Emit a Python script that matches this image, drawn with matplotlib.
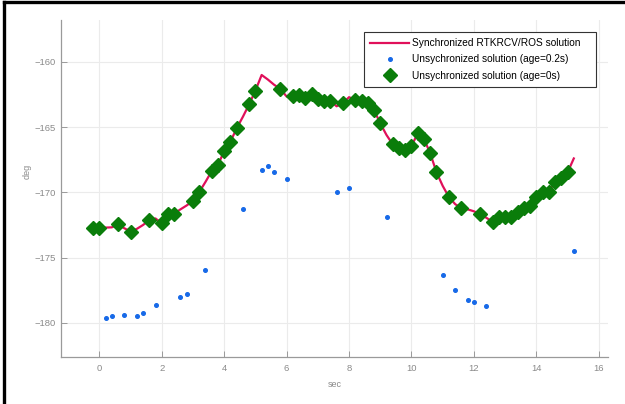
import matplotlib
matplotlib.use("Agg")
import matplotlib.pyplot as plt
from matplotlib.lines import Line2D
import numpy as np

# Synchronized RTKRCV/ROS solution (line)
sync_t = [-0.2, 0.0, 0.2, 0.4, 0.6, 0.8, 1.0, 1.2, 1.4, 1.6, 1.8, 2.0, 2.2, 2.4, 2.6, 2.8,
          3.0, 3.2, 3.4, 3.6, 3.8, 4.0, 4.2, 4.4, 4.6, 4.8, 5.0, 5.2, 5.4, 5.6, 5.8, 6.0,
          6.2, 6.4, 6.6, 6.8, 7.0, 7.2, 7.4, 7.6, 7.8, 8.0, 8.2, 8.4, 8.6, 8.8, 9.0, 9.2,
          9.4, 9.6, 9.8, 10.0, 10.2, 10.4, 10.6, 10.8, 11.0, 11.2, 11.4, 11.6, 11.8, 12.0,
          12.2, 12.4, 12.6, 12.8, 13.0, 13.2, 13.4, 13.6, 13.8, 14.0, 14.2, 14.4, 14.6,
          14.8, 15.0, 15.2]
sync_deg = [-172.76, -172.76, -172.7, -172.68, -172.46, -172.75, -173.0, -172.8, -172.5,
            -172.13, -172.0, -172.38, -171.67, -171.62, -171.3, -171.0, -170.65, -169.98,
            -169.2, -168.37, -167.9, -166.83, -166.11, -165.09, -164.2, -163.25, -162.2,
            -161.0, -161.35, -161.75, -162.07, -162.65, -162.61, -162.53, -162.8, -162.48,
            -162.85, -163.0, -162.97, -163.4, -163.17, -162.7, -162.92, -162.97, -163.17,
            -163.68, -164.71, -165.6, -166.32, -166.62, -166.75, -166.45, -165.47, -165.9,
            -167.0, -168.45, -169.5, -170.36, -170.9, -171.23, -171.3, -171.45, -171.67,
            -171.95, -172.26, -171.92, -171.92, -171.92, -171.49, -171.18, -171.05, -170.34,
            -170.0, -169.95, -169.19, -168.93, -168.47, -167.4]

# Unsynchronized solution (age=0.2s)
age02_t = [0.2, 0.4, 0.8, 1.2, 1.4, 1.8, 2.6, 2.8, 3.4, 4.6, 5.2, 5.4, 5.6, 6.0, 7.6, 8.0,
           9.2, 11.0, 11.4, 11.8, 12.0, 12.4, 15.2]
age02_deg = [-179.65, -179.47, -179.42, -179.5, -179.24, -178.6, -178.0, -177.8, -175.94,
             -171.3, -168.3, -168.0, -168.44, -169.0, -169.95, -169.7, -171.9, -176.37,
             -177.5, -178.27, -178.42, -178.7, -174.48]

# Unsynchronized solution (age=0s)
age0_t = [-0.2, 0.0, 0.6, 1.0, 1.6, 2.0, 2.2, 2.4, 3.0, 3.2, 3.6, 3.8, 4.0, 4.2, 4.4, 4.8,
          5.0, 5.8, 6.2, 6.4, 6.6, 6.8, 7.0, 7.2, 7.4, 7.8, 8.2, 8.4, 8.6, 8.8, 9.0, 9.4,
          9.6, 9.8, 10.0, 10.2, 10.4, 10.6, 10.8, 11.2, 11.6, 12.2, 12.6, 12.8, 13.0, 13.2,
          13.4, 13.6, 13.8, 14.0, 14.2, 14.4, 14.6, 14.8, 15.0]
age0_deg = [-172.76, -172.76, -172.46, -173.0, -172.13, -172.38, -171.67, -171.62, -170.65,
            -169.98, -168.37, -167.9, -166.83, -166.11, -165.09, -163.25, -162.2, -162.07,
            -162.61, -162.53, -162.8, -162.48, -162.85, -163.0, -162.97, -163.17, -162.92,
            -162.97, -163.17, -163.68, -164.71, -166.32, -166.62, -166.75, -166.45, -165.47,
            -165.9, -167.0, -168.45, -170.36, -171.23, -171.67, -172.26, -171.92, -171.92,
            -171.92, -171.49, -171.18, -171.05, -170.34, -170.0, -169.95, -169.19, -168.93,
            -168.47]

x_ticks = [0, 2, 4, 6, 8, 10, 12, 14, 16]
y_ticks = [-180, -175, -170, -165, -160]

plt.rcParams['font.family'] = ['Liberation Sans', 'DejaVu Sans']

fig = plt.figure(figsize=(6.25, 4.04), dpi=100)
ax = fig.add_axes([0.098, 0.117, 0.875, 0.833])

ax.plot(sync_t, sync_deg, color='#e0105a', lw=1.6, zorder=2,
        label='Synchronized RTKRCV/ROS solution')
ax.plot(age02_t, age02_deg, linestyle='none', marker='o', ms=2.6, color='#1769e8',
        mec='#1769e8', zorder=3, label='Unsychronized solution (age=0.2s)')
ax.plot(age0_t, age0_deg, linestyle='none', marker='D', ms=7, color='#0a7d0a',
        mec='#0a7d0a', zorder=4, label='Unsychronized solution (age=0s)')

ax.set_xlim(-1.22, 16.3)
ax.set_ylim(-182.6, -156.8)
ax.set_xticks(x_ticks)
ax.set_yticks(y_ticks)
ax.grid(True, color='#ebebeb', lw=0.8)
ax.set_axisbelow(True)

for s in ['top', 'right']:
    ax.spines[s].set_visible(False)
for s in ['left', 'bottom']:
    ax.spines[s].set_color('#9a9a9a')
    ax.spines[s].set_linewidth(0.9)
ax.tick_params(direction='in', length=4, width=0.7, colors='#9a9a9a',
               labelcolor='#8a8a8a', labelsize=6.8)
ax.tick_params(axis='y', pad=4)
ax.tick_params(axis='x', pad=5)

ax.set_xlabel('sec', color='#8a8a8a', fontsize=6.5, labelpad=5)
ax.set_ylabel('deg', color='#8a8a8a', fontsize=6.5)
ax.yaxis.set_label_coords(-0.055, 0.55)

leg = ax.legend(loc='upper left', bbox_to_anchor=(0.554, 0.0, 0.424, 0.965),
                mode='expand', borderaxespad=0,
                fontsize=7.3, frameon=True, fancybox=False, framealpha=1,
                edgecolor='#333333', handlelength=3.8, handletextpad=0.35,
                borderpad=0.6, labelspacing=0.62)
leg.get_frame().set_linewidth(0.8)

# figure border on top and left
fig.add_artist(Line2D([0.006, 0.006], [0, 0.994], transform=fig.transFigure, color='black', lw=2.4))
fig.add_artist(Line2D([0.006, 1.0], [0.994, 0.994], transform=fig.transFigure, color='black', lw=2.4))

fig.savefig('out.png', dpi=100)
